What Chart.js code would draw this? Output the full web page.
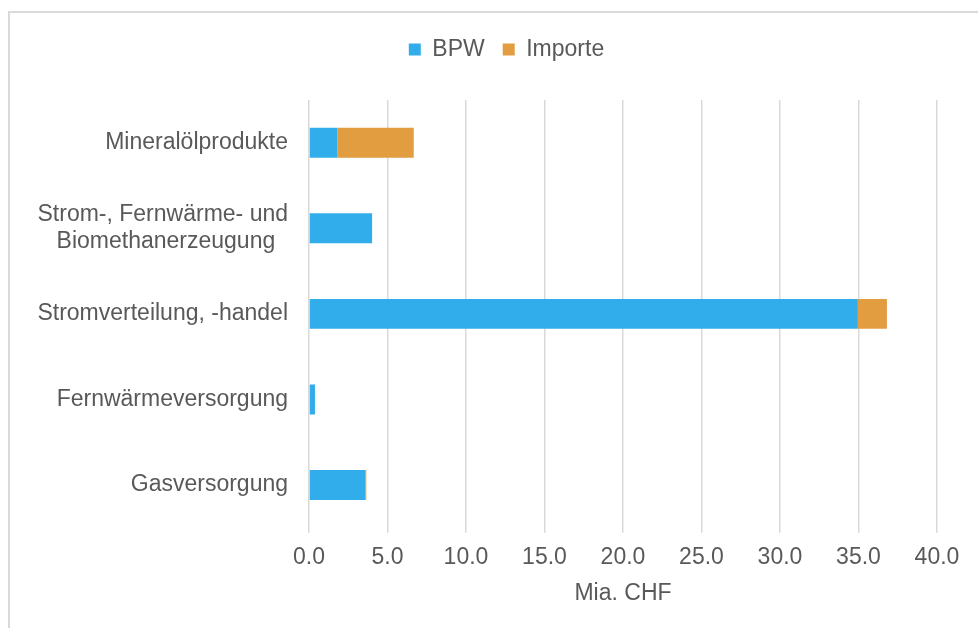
<!DOCTYPE html>
<html>
<head>
<meta charset="utf-8">
<script src="https://cdn.jsdelivr.net/npm/chart.js@4"></script>
<style>
  html, body { margin: 0; padding: 0; background: #fff; overflow: hidden; }
  #wrap { position: relative; width: 978px; height: 628px; }
  #frame { position: absolute; left: 8px; top: 11px; width: 1000px; height: 700px; border: 2px solid #d9d9d9; box-sizing: border-box; }
  canvas { position: absolute; left: 0; top: 0; }
</style>
</head>
<body>
<div id="wrap">
  <div id="frame"></div>
  <canvas id="myChart" width="978" height="628"></canvas>
</div>
<script>
// kategorier og verdier lest av bildet (Mia. CHF)
const categories = [
  'Mineralölprodukte',
  ['Strom-, Fernwärme- und', 'Biomethanerzeugung'],
  'Stromverteilung, -handel',
  'Fernwärmeversorgung',
  'Gasversorgung'
];
const bpwValues = [1.8, 4.02, 34.96, 0.38, 3.6];
const importValues = [4.87, 0, 1.85, 0, 0.05];
const seriesNames = ['BPW', 'Importe'];

const textColor = '#595959';
const gridColor = '#d9d9d9';
const fontFamily = '"Liberation Sans", Arial, sans-serif';

// mer luft under legenden, og legenden flyttes litt mot høyre (midt i rammen)
const legendTweak = {
  id: 'legendTweak',
  beforeInit(chart) {
    const legend = chart.legend;
    const origFit = legend.fit;
    legend.fit = function () {
      origFit.bind(legend)();
      this.height += 29;
    };
    const origDraw = legend.draw;
    legend.draw = function () {
      const c = chart.ctx;
      c.save();
      c.translate(38, 0);
      origDraw.bind(legend)();
      c.restore();
    };
  }
};

// midtstiller linjene i etiketter med flere linjer
const measureCtx = document.createElement('canvas').getContext('2d');
measureCtx.font = '23px ' + fontFamily;
function centerLines(label) {
  if (!Array.isArray(label)) return label;
  const widths = label.map(l => measureCtx.measureText(l).width);
  const maxW = Math.max(...widths);
  const spaceW = measureCtx.measureText('\u00a0').width;
  return label.map((l, i) => l + '\u00a0'.repeat(Math.round((maxW - widths[i]) / 2 / spaceW)));
}

const ctx = document.getElementById('myChart');
new Chart(ctx, {
  type: 'bar',
  data: {
    labels: categories,
    datasets: [{
      label: seriesNames[0],
      data: bpwValues,
      backgroundColor: '#31adeb',
      barPercentage: 0.35,
      categoryPercentage: 1
    }, {
      label: seriesNames[1],
      data: importValues,
      backgroundColor: '#e29d40',
      barPercentage: 0.35,
      categoryPercentage: 1
    }]
  },
  options: {
    indexAxis: 'y',
    responsive: false,
    animation: false,
    layout: { padding: { top: 20, right: 41, bottom: 21, left: 0 } },
    plugins: {
      legend: {
        position: 'top',
        labels: {
          boxWidth: 12,
          boxHeight: 12,
          padding: 18,
          color: textColor,
          font: { size: 23, family: fontFamily }
        }
      },
      tooltip: { enabled: false }
    },
    scales: {
      x: {
        stacked: true,
        min: 0,
        max: 40,
        ticks: {
          stepSize: 5,
          padding: 11,
          color: textColor,
          font: { size: 23, family: fontFamily },
          callback: v => v.toFixed(1)
        },
        grid: { color: gridColor, lineWidth: 1.5, tickLength: 5, tickColor: gridColor },
        border: { display: false },
        title: {
          display: true,
          text: 'Mia. CHF',
          color: textColor,
          font: { size: 23, family: fontFamily },
          padding: { top: -3, bottom: 0 }
        }
      },
      y: {
        stacked: true,
        afterFit(scale) { scale.width = 309; },
        ticks: {
          padding: 21,
          color: textColor,
          font: { size: 23, family: fontFamily },
          callback: function (v) { return centerLines(this.getLabelForValue(v)); }
        },
        grid: { display: false, drawTicks: false },
        border: { display: false }
      }
    }
  },
  plugins: [legendTweak]
});
</script>
</body>
</html>
